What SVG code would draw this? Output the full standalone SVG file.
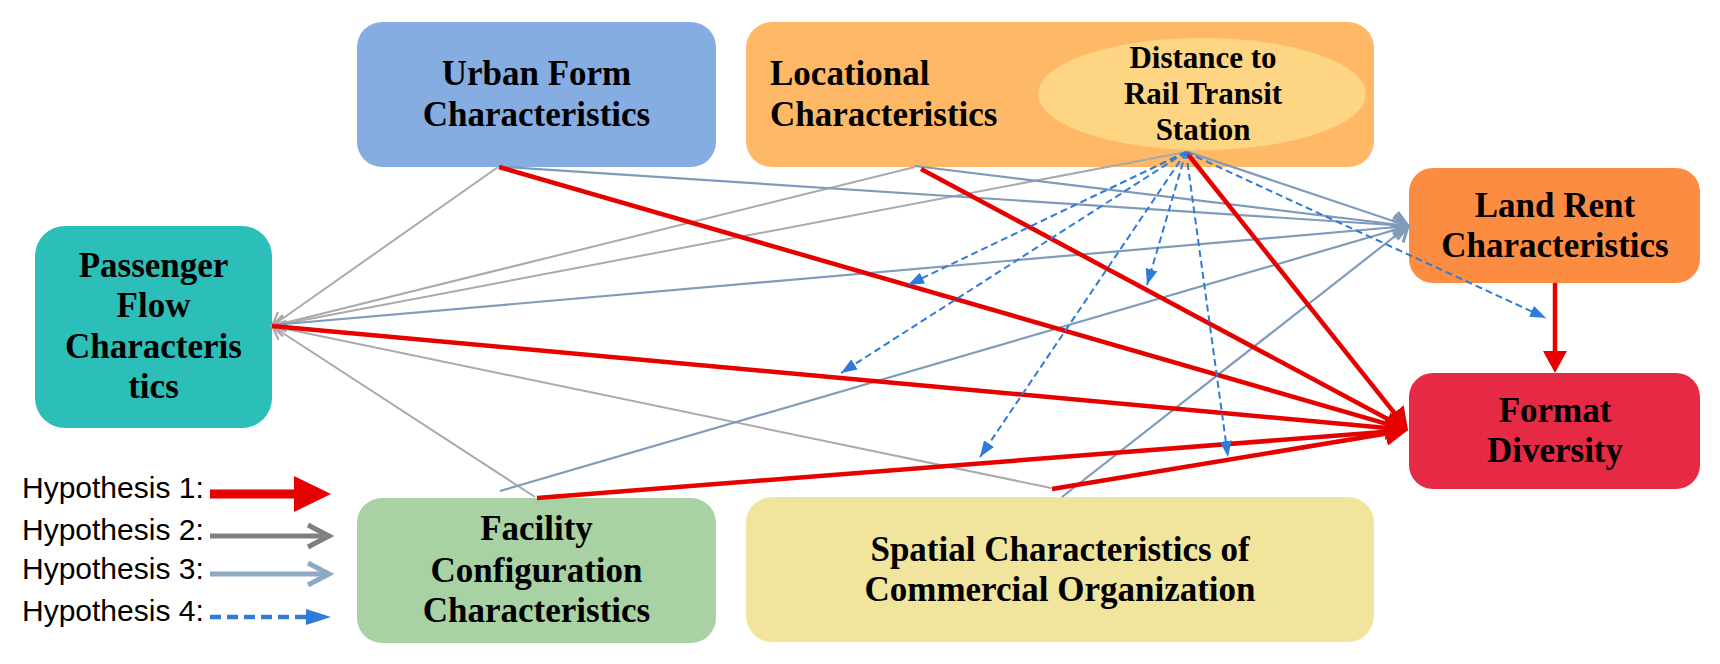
<svg xmlns="http://www.w3.org/2000/svg" width="1720" height="664" viewBox="0 0 1720 664">
<style>
.lbl{font-family:"Liberation Serif","Times New Roman",serif;font-weight:bold;font-size:35px;fill:#000;text-anchor:middle}
.sm{font-size:31px}
.leg{font-family:"Liberation Sans",Arial,sans-serif;font-size:30px;fill:#000}
.h1{stroke:#E60000;stroke-width:4.5;fill:none;marker-end:url(#mRed)}
.h2{stroke:#AAAAAA;stroke-width:2;fill:none;marker-end:url(#mGray)}
.h3{stroke:#7E9CBA;stroke-width:2.2;fill:none;marker-end:url(#mBlue)}
.h4{stroke:#2F7BD8;stroke-width:2;fill:none;stroke-dasharray:7 4;marker-end:url(#mDash)}
</style>
<defs>
<marker id="mRed" markerUnits="userSpaceOnUse" markerWidth="22" markerHeight="24" viewBox="0 0 22 24" refX="17" refY="12" orient="auto"><path d="M0,0 L22,12 L0,24 z" fill="#E60000"/></marker>
<marker id="mGray" markerUnits="userSpaceOnUse" markerWidth="20" markerHeight="22" viewBox="-17 -11 20 22" refX="0" refY="0" orient="auto" overflow="visible"><path d="M-13,-8 L0,0 L-13,8" fill="none" stroke="#AAAAAA" stroke-width="2.2"/></marker>
<marker id="mBlue" markerUnits="userSpaceOnUse" markerWidth="22" markerHeight="26" viewBox="-18 -13 22 26" refX="0" refY="0" orient="auto" overflow="visible"><path d="M-14,-10 L0,0 L-14,10" fill="none" stroke="#7E9CBA" stroke-width="3"/></marker>
<marker id="mDash" markerUnits="userSpaceOnUse" markerWidth="16" markerHeight="12" viewBox="0 0 16 12" refX="16" refY="6" orient="auto"><path d="M0,0 L16,6 L0,12 z" fill="#2F7BD8"/></marker>
</defs>
<rect width="1720" height="664" fill="#FFFFFF"/>

<g id="urban-form">
<rect x="357" y="22" width="359" height="145" rx="25" fill="#86ADE1"/>
<text class="lbl" x="536.5" y="85">Urban Form</text>
<text class="lbl" x="536.5" y="126">Characteristics</text>
</g>
<g id="locational">
<rect x="746" y="22" width="628" height="145" rx="26" fill="#FEB866"/>
<text class="lbl" x="770" y="85" text-anchor="start" style="text-anchor:start">Locational</text>
<text class="lbl" x="770" y="126" style="text-anchor:start">Characteristics</text>
</g>
<g id="distance-station">
<ellipse cx="1202" cy="94" rx="164" ry="56" fill="#FDD583"/>
<text class="lbl sm" x="1203" y="68">Distance to</text>
<text class="lbl sm" x="1203" y="104">Rail Transit</text>
<text class="lbl sm" x="1203" y="140">Station</text>
</g>
<g id="passenger-flow">
<rect x="35" y="226" width="237" height="202" rx="30" fill="#2CBEB8"/>
<text class="lbl" x="153.5" y="277">Passenger</text>
<text class="lbl" x="153.5" y="317">Flow</text>
<text class="lbl" x="153.5" y="358">Characteris</text>
<text class="lbl" x="153.5" y="398">tics</text>
</g>
<g id="land-rent">
<rect x="1409" y="168" width="291" height="115" rx="24" fill="#FD8C43"/>
<text class="lbl" x="1555" y="217">Land Rent</text>
<text class="lbl" x="1555" y="257">Characteristics</text>
</g>
<g id="format-diversity">
<rect x="1409" y="373" width="291" height="116" rx="24" fill="#E62A46"/>
<text class="lbl" x="1555" y="422">Format</text>
<text class="lbl" x="1555" y="462">Diversity</text>
</g>
<g id="facility">
<rect x="357" y="498" width="359" height="145" rx="25" fill="#A8D2A3"/>
<text class="lbl" x="536.5" y="540">Facility</text>
<text class="lbl" x="536.5" y="582">Configuration</text>
<text class="lbl" x="536.5" y="622">Characteristics</text>
</g>
<g id="spatial">
<rect x="746" y="497" width="628" height="145" rx="26" fill="#F1E49D"/>
<text class="lbl" x="1060" y="561">Spatial Characteristics of</text>
<text class="lbl" x="1060" y="601">Commercial Organization</text>
</g>

<g id="connectors">
<line class="h2" x1="498" y1="167" x2="272" y2="326"/>
<line class="h2" x1="915" y1="167" x2="272" y2="326"/>
<line class="h2" x1="1186" y1="152" x2="272" y2="326"/>
<line class="h2" x1="535" y1="497" x2="272" y2="326"/>
<line class="h2" x1="1051" y1="488" x2="272" y2="326"/>

<line class="h3" x1="505" y1="167" x2="1408" y2="226"/>
<line class="h3" x1="915" y1="166" x2="1408" y2="226"/>
<line class="h3" x1="1188" y1="152" x2="1408" y2="226"/>
<line class="h3" x1="273" y1="325" x2="1408" y2="226"/>
<line class="h3" x1="500" y1="491" x2="1408" y2="226"/>
<line class="h3" x1="1062" y1="497" x2="1408" y2="226"/>

<line class="h1" x1="499" y1="167" x2="1403.2" y2="428.6"/>
<line class="h1" x1="921" y1="169" x2="1403.6" y2="427.6"/>
<line class="h1" x1="1187" y1="153" x2="1404.9" y2="426.1"/>
<line class="h1" x1="272" y1="326" x2="1403" y2="429.5"/>
<line class="h1" x1="537" y1="498" x2="1403" y2="430.4"/>
<line class="h1" x1="1052" y1="489" x2="1403.1" y2="430.8"/>
<line class="h1" x1="1555" y1="283" x2="1555" y2="368"/>

<line class="h4" x1="1186" y1="152" x2="908" y2="285"/>
<line class="h4" x1="1186" y1="152" x2="841" y2="373"/>
<line class="h4" x1="1186" y1="152" x2="1147" y2="285"/>
<line class="h4" x1="1186" y1="152" x2="980" y2="457"/>
<line class="h4" x1="1186" y1="152" x2="1228" y2="457"/>
<line class="h4" x1="1186" y1="152" x2="1546" y2="318"/>
</g>

<g id="legend">
<text class="leg" x="22" y="498">Hypothesis 1:</text>
<line x1="210" y1="494" x2="297" y2="494" stroke="#E60000" stroke-width="9"/>
<path d="M294,476 L331,494 L294,512 z" fill="#E60000"/>
<text class="leg" x="22" y="540">Hypothesis 2:</text>
<line x1="210" y1="536" x2="327" y2="536" stroke="#7F7F7F" stroke-width="5"/>
<path d="M308,525 L329,536 L308,547" fill="none" stroke="#7F7F7F" stroke-width="5"/>
<text class="leg" x="22" y="579">Hypothesis 3:</text>
<line x1="210" y1="574" x2="327" y2="574" stroke="#8EA9C6" stroke-width="5"/>
<path d="M308,563 L329,574 L308,585" fill="none" stroke="#8EA9C6" stroke-width="5"/>
<text class="leg" x="22" y="621">Hypothesis 4:</text>
<line x1="210" y1="617" x2="308" y2="617" stroke="#2F7BD8" stroke-width="4.5" stroke-dasharray="11 6"/>
<path d="M306,609 L331,617 L306,625 z" fill="#2F7BD8"/>
</g>
</svg>
